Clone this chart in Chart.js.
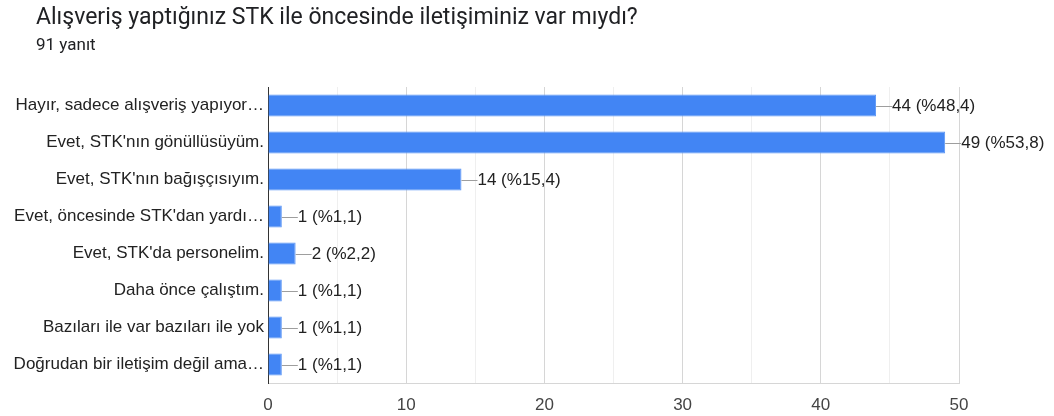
<!DOCTYPE html>
<html>
<head>
<meta charset="utf-8">
<script src="https://cdn.jsdelivr.net/npm/chart.js@4"></script>
<style>
  body { margin: 0; background: #fff; }
  #wrap { position: relative; width: 1054px; height: 416px; }
  #title { position: absolute; left: 36px; top: 3px; font: 23px Roboto, sans-serif; color: #202124; white-space: nowrap; }
  #sub { position: absolute; left: 36px; top: 34px; font: 17px Roboto, sans-serif; color: #202124; }
  canvas { position: absolute; left: 0; top: 0; }
</style>
</head>
<body>
<div id="wrap">
  <canvas id="chart" width="1054" height="416"></canvas>
  <div id="title">Alışveriş yaptığınız STK ile öncesinde iletişiminiz var mıydı?</div>
  <div id="sub">91 yanıt</div>
</div>
<script>
// Answers and response counts
const answers = [
    'Hayır, sadece alışveriş yapıyor…',
    "Evet, STK'nın gönüllüsüyüm.",
    "Evet, STK'nın bağışçısıyım.",
    "Evet, öncesinde STK'dan yardı…",
    "Evet, STK'da personelim.",
    'Daha önce çalıştım.',
    'Bazıları ile var bazıları ile yok',
    'Doğrudan bir iletişim değil ama…'
];
const counts = [44, 49, 14, 1, 2, 1, 1, 1];
const percents = ['48,4', '53,8', '15,4', '1,1', '2,2', '1,1', '1,1', '1,1'];
const xTicks = [0, 10, 20, 30, 40, 50];

const font = 'Arial, "Liberation Sans", sans-serif';

// draws the "—44 (%48,4)" labels at the end of each bar
const barLabels = {
    id: 'barLabels',
    afterDatasetsDraw(chart) {
        const c = chart.ctx;
        const meta = chart.getDatasetMeta(0);
        c.save();
        c.font = '17px ' + font;
        c.textBaseline = 'middle';
        meta.data.forEach((bar, i) => {
            c.strokeStyle = '#9e9e9e';
            c.lineWidth = 1;
            c.beginPath();
            c.moveTo(bar.x, Math.round(bar.y) + 0.5);
            c.lineTo(bar.x + 16, Math.round(bar.y) + 0.5);
            c.stroke();
            c.fillStyle = '#222';
            c.fillText(counts[i] + ' (%' + percents[i] + ')', bar.x + 16, bar.y + 1);
        });
        c.restore();
    }
};

new Chart(document.getElementById('chart'), {
    type: 'bar',
    data: {
        labels: answers,
        datasets: [{
            data: counts,
            backgroundColor: '#4285f4',
            borderColor: '#5a95f5',
            borderWidth: 1,
            barPercentage: 0.6,
            categoryPercentage: 1
        }]
    },
    options: {
        indexAxis: 'y',
        responsive: false,
        animation: false,
        layout: { padding: { top: 87, right: 95, left: 0, bottom: 0 } },
        plugins: {
            legend: { display: false },
            tooltip: { enabled: false }
        },
        scales: {
            x: {
                min: 0,
                max: 50,
                afterFit: (scale) => { scale.height = 33; },
                ticks: {
                    stepSize: 5,
                    padding: 12,
                    color: '#444',
                    font: { family: font, size: 17 },
                    callback: (v) => xTicks.includes(v) ? v : ''
                },
                grid: {
                    drawTicks: false,
                    color: (ctx) => (ctx.tick && ctx.tick.value % 10 === 0) ? '#d6d6d6' : '#efefef'
                },
                border: { color: '#d6d6d6' }
            },
            y: {
                afterFit: (scale) => { scale.width = 268; },
                ticks: {
                    padding: 4,
                    color: '#222',
                    font: { family: font, size: 17 }
                },
                grid: { display: false, drawTicks: false },
                border: { color: '#333', width: 1 }
            }
        }
    },
    plugins: [barLabels]
});
</script>
</body>
</html>
